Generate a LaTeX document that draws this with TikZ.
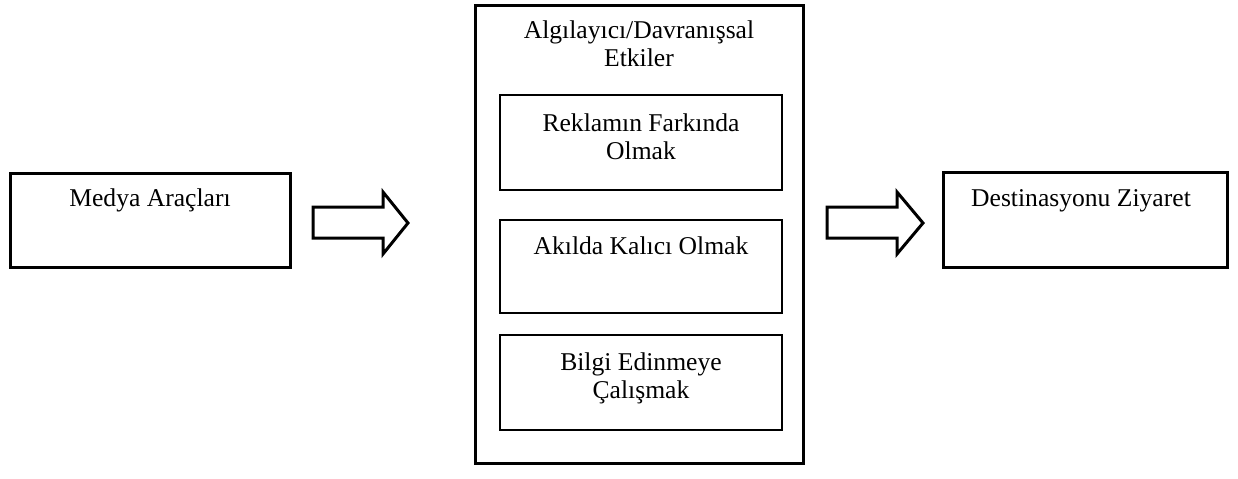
\documentclass[tikz,border=0pt]{standalone}
\usepackage{fontspec}
\setmainfont{Liberation Serif}
\usetikzlibrary{positioning}

\tikzset{
  outerbox/.style={draw, line width=1.5pt, rectangle, inner sep=0pt},
  innerbox/.style={draw, line width=0.9pt, rectangle, inner sep=0pt},
  boxtext/.style={inner sep=0pt, align=center},
  fatarrow/.style={draw, line width=1.5pt, line join=miter, fill=white}
}

\begin{document}
\begin{tikzpicture}[x=0.5pt, y=-0.5pt,
  font=\fontsize{12.8}{14}\selectfont]
\useasboundingbox (0,0) rectangle (1238,478);

% Drawing box Medya
\node [outerbox, minimum width=140pt, minimum height=47pt] (medya) at (150,220) {};
\node [boxtext, below=8.5pt of medya.north] (medyaText) {Medya Araçları};

% Drawing arrow Medya -> Etkiler
\coordinate (arrowA) at (313,223);
\draw [fatarrow] (arrowA) ++(0,-16) -- ++(70,0) -- ++(0,-15) -- (408,223)
  -- (383,254) -- ++(0,-16) -- (313,238) -- cycle;%

% Drawing box Etkiler
\node [outerbox, minimum width=164pt, minimum height=229pt] (etkiler) at (639,234) {};
\node [boxtext, below=8.5pt of etkiler.north] (etkilerText) {Algılayıcı/Davranışsal\\Etkiler};

% Drawing inner boxes
\node [innerbox, minimum width=141pt, minimum height=47.5pt] (reklam) at (641,142.5) {};
\node [boxtext, below=9.5pt of reklam.north] (reklamText) {Reklamın Farkında\\Olmak};

\node [innerbox, minimum width=141pt, minimum height=46.5pt] (akilda) at (641,266.5) {};
\node [boxtext, below=8.5pt of akilda.north] (akildaText) {Akılda Kalıcı Olmak};

\node [innerbox, minimum width=141pt, minimum height=47.5pt] (bilgi) at (641,382.5) {};
\node [boxtext, below=9pt of bilgi.north] (bilgiText) {Bilgi Edinmeye\\Çalışmak};

% Drawing arrow Etkiler -> Destinasyon
\coordinate (arrowB) at (827,223);
\draw [fatarrow] (arrowB) ++(0,-16) -- ++(70,0) -- ++(0,-15) -- (923,223)
  -- (897,254) -- ++(0,-16) -- (827,238) -- cycle;%

% Drawing box Destinasyon
\node [outerbox, minimum width=142pt, minimum height=47.5pt] (ziyaret) at (1085,219.5) {};
\node [boxtext, below=9.5pt of ziyaret.north, xshift=-2pt] (ziyaretText) {Destinasyonu Ziyaret};
\end{tikzpicture}
\end{document}
